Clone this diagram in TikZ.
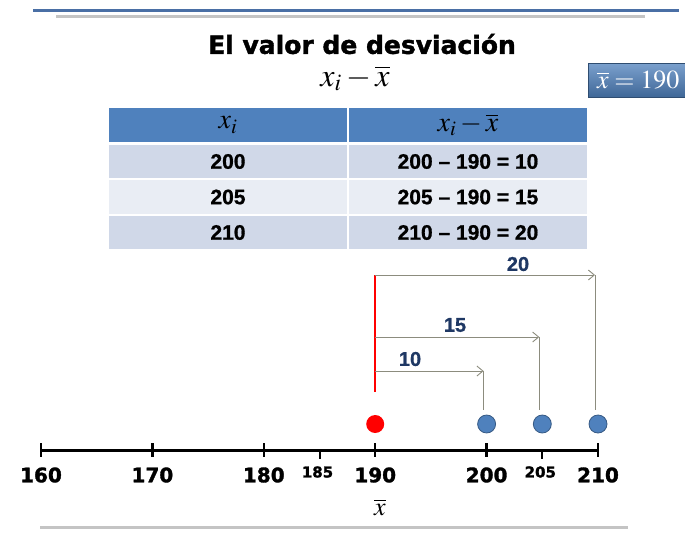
\documentclass[tikz,border=0pt]{standalone}
\usepackage{mathptmx}
\usepackage[no-math]{fontspec}
\setmainfont{Liberation Sans}
\newfontfamily\heavy[FakeBold=1.6]{DejaVu Sans Bold}
\newfontfamily\boldish[FakeBold=0.8]{Liberation Sans Bold}
\usetikzlibrary{positioning,arrows.meta}
\definecolor{hdblue}{HTML}{4F81BD}
\definecolor{rowdark}{HTML}{D0D8E8}
\definecolor{rowlight}{HTML}{E9EDF4}
\definecolor{navy}{HTML}{1F3864}
\definecolor{olive}{HTML}{8C8C7E}
\definecolor{rulegray}{HTML}{C4C4C4}
\definecolor{topblue}{HTML}{4A6FA5}

\begin{document}
\begin{tikzpicture}[x=1pt,y=-1pt,
  cell/.style={draw=white,line width=1.5pt,minimum width=240pt,minimum height=35pt,inner sep=0pt,font=\boldish\fontsize{21}{24}\selectfont},
  head/.style={cell,fill=hdblue,minimum height=36pt,font=\fontsize{28}{30}\selectfont},
  big/.style={font=\heavy\fontsize{20}{24}\selectfont},
  small/.style={font=\heavy\fontsize{15}{18}\selectfont},
  dist/.style={font=\boldish\fontsize{20}{24}\selectfont,text=navy},
  dot/.style={circle,draw=hdblue!70!black,line width=0.8pt,fill=hdblue,minimum size=18pt,inner sep=0pt},
  span/.style={draw=olive,line width=0.9pt}]
   \useasboundingbox (0,0) rectangle (685,536);
   % rules
   \draw[topblue,line width=3pt] (33,10.5) -- (679,10.5);
   \draw[rulegray,line width=3pt] (56,16.5) -- (645,16.5);
   \draw[rulegray,line width=3pt] (40,527) -- (628,527);
   % title
   \node[inner sep=0pt,font=\heavy\fontsize{25}{30}\selectfont] (title) at (362,44) {El valor de desviación};
   \node[anchor=base,inner sep=0pt,font=\fontsize{32}{36}\selectfont] (dev) at (355,86) {$x_i-\overline{x}$};
   \node[anchor=west,draw=hdblue!60!black,top color=hdblue!75!white,bottom color=hdblue!80!black,
         minimum width=100pt,minimum height=34pt,text=white,font=\fontsize{26}{30}\selectfont] (mean) at (588,80) {$\overline{x}=190$};
   % table
   \node[head] (h1) at (228,125) {$x_i$};
   \node[head] (h2) at (468,125) {$x_i-\overline{x}$};
   \foreach \v/\d/\c [count=\i] in {200/10/rowdark,205/15/rowlight,210/20/rowdark}{
     \node[cell,fill=\c] (a\i) at (228,126+35.5*\i) {\v};
     \node[cell,fill=\c] (b\i) at (468,126+35.5*\i) {\v{} – 190 = \d};
   }
   % number line
   \foreach \v in {160,165,...,210}
     \coordinate (t\v) at ({41+(\v-160)*11.14},450);
   \draw[line width=3pt] (t160) -- (t210);
   \foreach \v in {160,170,...,210}{
     \draw[line width=2.5pt] ([yshift=7pt]t\v) -- ([yshift=-7pt]t\v);
     \node[big] (n\v) at ([yshift=-25pt]t\v) {\v};
   }
   \foreach \v in {185,205}{
     \draw[line width=2pt] (t\v) -- ([yshift=-9pt]t\v);
     \node[small] (n\v) at ([xshift=-2pt,yshift=-22pt]t\v) {\v};
   }
   \node[font=\fontsize{26}{30}\selectfont] (xbar) at (380,507) {$\overline{x}$};
   % points and distances
   \node[dot,fill=red,draw=none] (d190) at ([yshift=26pt]t190) {};
   \foreach \v in {200,205,210}
     \node[dot] (d\v) at ([yshift=26pt]t\v) {};
   \coordinate (r0) at ([yshift=175pt]t190);
   \coordinate (r1) at ([yshift=58pt]t190);
   \draw[red,line width=1.6pt] (r0) -- (r1);
   \foreach \v/\d/\h/\lx/\ly in {200/10/371/410/359,205/15/337/455/325,210/20/275/518/264}{
     \coordinate (s\v) at (t190 |- 0,\h);
     \coordinate (e\v) at ({41+(\v-160)*11.14-3},\h);
     \draw[span,-{Straight Barb[length=6pt,width=10pt]}] (s\v) -- (e\v);
     \draw[span,shorten >=5pt] (e\v) -- ([xshift=-3pt]d\v.north);
     \node[dist] (l\d) at (\lx,\ly) {\d};
   }
\end{tikzpicture}
\end{document}
